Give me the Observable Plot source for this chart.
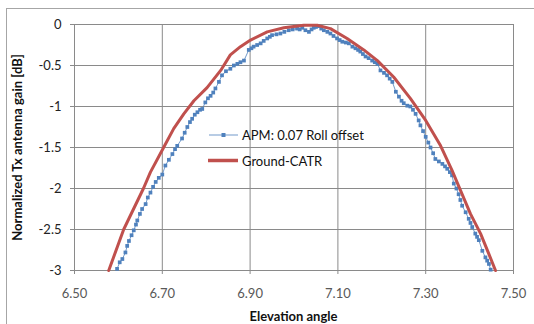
<!DOCTYPE html>
<html>
<head>
<meta charset="utf-8">
<script src="https://cdn.jsdelivr.net/npm/d3@7"></script>
<script src="https://cdn.jsdelivr.net/npm/@observablehq/plot@0.6"></script>
<style>
  html, body { margin: 0; padding: 0; background: #fff; }
  #chart { width: 534px; height: 324px; overflow: hidden; }
</style>
</head>
<body>
<div id="chart"></div>
<script>
// APM: 0.07 Roll offset (blue, markers)
const apmAngle = [6.597,6.603,6.609,6.616,6.620,6.624,6.630,6.635,6.640,6.643,6.649,6.654,6.662,6.667,6.673,6.679,6.685,6.692,6.700,6.707,6.715,6.723,6.729,6.734,6.745,6.751,6.757,6.763,6.768,6.774,6.780,6.786,6.791,6.798,6.804,6.810,6.816,6.821,6.829,6.836,6.845,6.855,6.863,6.871,6.878,6.886,6.897,6.903,6.908,6.916,6.924,6.931,6.939,6.945,6.950,6.960,6.969,6.978,6.988,6.997,7.007,7.013,7.019,7.026,7.034,7.040,7.045,7.050,7.056,7.062,7.068,7.076,7.083,7.090,7.098,7.104,7.110,7.118,7.125,7.133,7.140,7.146,7.151,7.157,7.163,7.170,7.178,7.184,7.190,7.197,7.205,7.212,7.218,7.224,7.232,7.239,7.245,7.250,7.258,7.265,7.271,7.277,7.284,7.288,7.294,7.300,7.306,7.311,7.317,7.322,7.330,7.338,7.344,7.349,7.355,7.360,7.364,7.370,7.375,7.379,7.383,7.391,7.398,7.402,7.406,7.413,7.417,7.421,7.429,7.436,7.440,7.444,7.448];
const apmGain = [-2.98,-2.90,-2.86,-2.78,-2.70,-2.64,-2.57,-2.51,-2.44,-2.39,-2.31,-2.25,-2.19,-2.11,-2.05,-1.98,-1.92,-1.87,-1.83,-1.72,-1.65,-1.58,-1.52,-1.48,-1.39,-1.32,-1.25,-1.19,-1.15,-1.10,-1.07,-1.04,-1.03,-0.95,-0.90,-0.87,-0.83,-0.78,-0.70,-0.62,-0.57,-0.54,-0.50,-0.48,-0.46,-0.44,-0.31,-0.29,-0.27,-0.25,-0.23,-0.20,-0.17,-0.15,-0.13,-0.12,-0.11,-0.09,-0.07,-0.06,-0.05,-0.06,-0.04,-0.07,-0.09,-0.06,-0.04,-0.03,-0.02,-0.05,-0.07,-0.09,-0.11,-0.14,-0.17,-0.19,-0.21,-0.22,-0.23,-0.27,-0.29,-0.31,-0.33,-0.36,-0.39,-0.41,-0.44,-0.46,-0.48,-0.56,-0.59,-0.62,-0.66,-0.70,-0.82,-0.88,-0.93,-0.96,-0.99,-1.00,-1.04,-1.09,-1.17,-1.23,-1.30,-1.37,-1.44,-1.50,-1.57,-1.64,-1.67,-1.70,-1.73,-1.76,-1.80,-1.84,-1.94,-2.00,-2.07,-2.14,-2.21,-2.29,-2.37,-2.42,-2.47,-2.55,-2.59,-2.63,-2.76,-2.84,-2.88,-2.92,-2.99];

// Ground-CATR (red line)
const catrAngle = [6.578,6.612,6.657,6.673,6.703,6.726,6.749,6.772,6.802,6.833,6.855,6.878,6.901,6.939,6.977,7.022,7.053,7.083,7.121,7.159,7.190,7.227,7.265,7.300,7.334,7.360,7.379,7.402,7.425,7.444,7.459];
const catrGain = [-3.0,-2.5,-2.0,-1.80,-1.50,-1.27,-1.09,-0.93,-0.77,-0.56,-0.37,-0.27,-0.19,-0.09,-0.04,-0.01,-0.01,-0.05,-0.17,-0.31,-0.44,-0.64,-0.90,-1.17,-1.48,-1.78,-2.02,-2.31,-2.55,-2.80,-3.0];

const xTicks = [6.5, 6.7, 6.9, 7.1, 7.3, 7.5];
const yTicks = [0, -0.5, -1, -1.5, -2, -2.5, -3];
const seriesNames = ["APM: 0.07 Roll offset", "Ground-CATR"];
const xLabel = "Elevation angle";
const yLabel = "Normalized Tx antenna gain [dB]";

const apm = apmAngle.map((a, i) => ({angle: a, gain: apmGain[i]}));
const catr = catrAngle.map((a, i) => ({angle: a, gain: catrGain[i]}));

const BLUE = "#4F81BD", RED = "#C0504D", GRID = "#8a8a8a";

const plot = Plot.plot({
  width: 534,
  height: 324,
  marginLeft: 74,
  marginRight: 21,
  marginTop: 24,
  marginBottom: 54,
  style: {fontFamily: "Lato, 'Open Sans', sans-serif", fontSize: "13px", background: "#fff", overflow: "visible"},
  x: {domain: [6.5, 7.5]},
  y: {domain: [-3, 0]},
  marks: [
    Plot.gridX(xTicks, {stroke: GRID, strokeOpacity: 1}),
    Plot.gridY(yTicks, {stroke: GRID, strokeOpacity: 1}),
    Plot.axisX(xTicks, {tickSize: 4, tickPadding: 14, stroke: GRID, fill: "#595959", fontSize: 13,
      tickFormat: d => d.toFixed(2), label: null}),
    Plot.axisY(yTicks, {tickSize: 4, tickPadding: 9, stroke: GRID, fill: "#222", fontSize: 13,
      tickFormat: d => String(d), label: null}),
    Plot.line(apm, {x: "angle", y: "gain", stroke: BLUE, strokeWidth: 1, strokeOpacity: 0.8}),
    Plot.dot(apm, {x: "angle", y: "gain", symbol: "square", r: 2.1, fill: BLUE, stroke: "none"}),
    Plot.line(catr, {x: "angle", y: "gain", stroke: RED, strokeWidth: 3, strokeLinejoin: "round"})
  ]
});

const svg = d3.select(plot);
// outer chart border
svg.insert("rect", ":first-child")
  .attr("x", 6.5).attr("y", 8.5).attr("width", 600).attr("height", 400)
  .attr("fill", "none").attr("stroke", "#a6a6a6");

// axis titles
svg.append("text").text(xLabel)
  .attr("x", 293.5).attr("y", 321).attr("text-anchor", "middle")
  .attr("font-weight", "bold").attr("font-size", 13).attr("fill", "#111");
svg.append("text").text(yLabel)
  .attr("transform", "translate(22,147.5) rotate(-90)").attr("text-anchor", "middle")
  .attr("font-weight", "bold").attr("font-size", 13).attr("fill", "#111");

// legend
const lg = svg.append("g").attr("text-anchor", "start");
lg.append("line").attr("x1", 209).attr("x2", 238).attr("y1", 135).attr("y2", 135)
  .attr("stroke", BLUE).attr("stroke-width", 1).attr("stroke-opacity", 0.8);
lg.append("rect").attr("x", 221.5).attr("y", 133).attr("width", 4).attr("height", 4).attr("fill", BLUE);
lg.append("text").text(seriesNames[0]).attr("x", 242).attr("y", 135).attr("text-anchor", "start")
  .attr("dominant-baseline", "central").attr("font-size", 13).attr("fill", "#111");
lg.append("line").attr("x1", 208).attr("x2", 238).attr("y1", 160.5).attr("y2", 160.5)
  .attr("stroke", RED).attr("stroke-width", 3.5);
lg.append("text").text(seriesNames[1]).attr("x", 242).attr("y", 160.5).attr("text-anchor", "start")
  .attr("dominant-baseline", "central").attr("font-size", 13).attr("fill", "#111");

document.getElementById("chart").appendChild(plot);
</script>
</body>
</html>
